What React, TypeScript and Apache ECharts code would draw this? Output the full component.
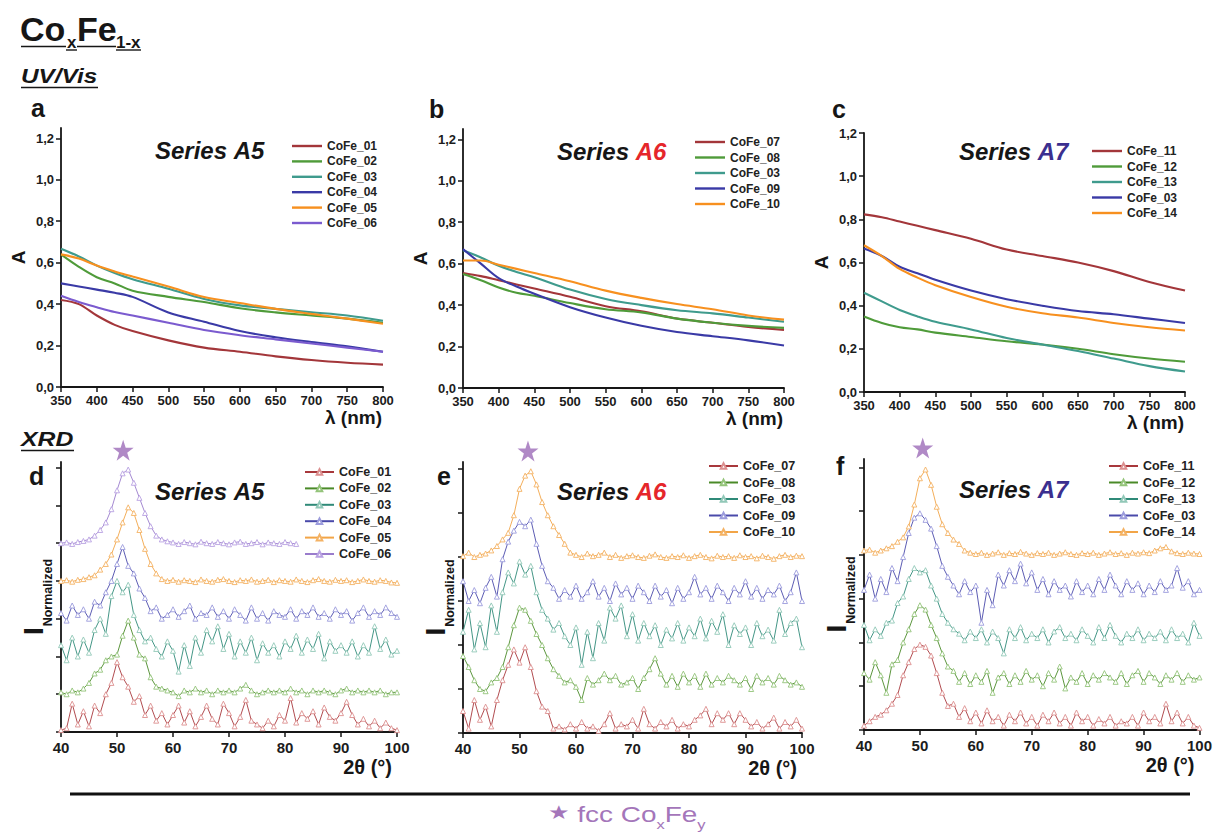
import React, { useEffect, useRef } from "react";
import * as echarts from "echarts";

const FONT = '"Liberation Sans", Arial, Helvetica, sans-serif';
const INK = "#161616";

// ---------------- UV/Vis data (absorbance A vs wavelength, nm) ----------------
const WAVELENGTH_NM = [350, 375, 400, 425, 450, 500, 550, 600, 650, 700, 750, 800];
const UV_Y_TICKS = [0, 0.2, 0.4, 0.6, 0.8, 1.0, 1.2];

// Series A5 (panel a)
const A5_CoFe_01 = [0.42, 0.40, 0.345, 0.30, 0.27, 0.225, 0.19, 0.17, 0.148, 0.13, 0.117, 0.108];
const A5_CoFe_02 = [0.64, 0.58, 0.53, 0.50, 0.465, 0.435, 0.41, 0.38, 0.36, 0.345, 0.33, 0.31];
const A5_CoFe_03 = [0.667, 0.63, 0.586, 0.55, 0.52, 0.474, 0.425, 0.394, 0.377, 0.361, 0.345, 0.32];
const A5_CoFe_04 = [0.50, 0.485, 0.47, 0.455, 0.435, 0.36, 0.315, 0.27, 0.24, 0.217, 0.196, 0.17];
const A5_CoFe_05 = [0.64, 0.62, 0.586, 0.558, 0.533, 0.485, 0.434, 0.405, 0.377, 0.353, 0.33, 0.305];
const A5_CoFe_06 = [0.44, 0.41, 0.385, 0.362, 0.345, 0.31, 0.275, 0.25, 0.23, 0.21, 0.19, 0.17];

// Series A6 (panel b)
const A6_CoFe_07 = [0.555, 0.54, 0.52, 0.50, 0.48, 0.44, 0.395, 0.37, 0.335, 0.315, 0.295, 0.28];
const A6_CoFe_08 = [0.55, 0.52, 0.485, 0.46, 0.445, 0.41, 0.38, 0.365, 0.335, 0.315, 0.30, 0.29];
const A6_CoFe_03 = [0.665, 0.63, 0.59, 0.56, 0.535, 0.475, 0.43, 0.40, 0.375, 0.36, 0.34, 0.32];
const A6_CoFe_09 = [0.67, 0.60, 0.53, 0.49, 0.455, 0.39, 0.34, 0.30, 0.27, 0.25, 0.23, 0.205];
const A6_CoFe_10 = [0.615, 0.615, 0.595, 0.575, 0.555, 0.515, 0.47, 0.435, 0.405, 0.38, 0.35, 0.33];

// Series A7 (panel c)
const A7_CoFe_11 = [0.823, 0.81, 0.79, 0.77, 0.75, 0.71, 0.66, 0.63, 0.60, 0.56, 0.51, 0.47];
const A7_CoFe_12 = [0.35, 0.32, 0.30, 0.29, 0.275, 0.255, 0.235, 0.22, 0.20, 0.175, 0.155, 0.14];
const A7_CoFe_13 = [0.46, 0.42, 0.38, 0.35, 0.325, 0.29, 0.25, 0.22, 0.19, 0.155, 0.12, 0.095];
const A7_CoFe_03 = [0.665, 0.63, 0.58, 0.55, 0.52, 0.47, 0.43, 0.40, 0.375, 0.36, 0.34, 0.32];
const A7_CoFe_14 = [0.68, 0.63, 0.57, 0.53, 0.495, 0.44, 0.395, 0.365, 0.345, 0.32, 0.30, 0.285];

// ---------------- XRD data (normalized, stacked intensity vs 2θ) ----------------
const TWO_THETA = [
  40, 41, 42, 43, 44, 45, 46, 47, 48, 49, 50, 51, 52, 53, 54, 55, 56, 57, 58, 59,
  60, 61, 62, 63, 64, 65, 66, 67, 68, 69, 70, 71, 72, 73, 74, 75, 76, 77, 78, 79,
  80, 81, 82, 83, 84, 85, 86, 87, 88, 89, 90, 91, 92, 93, 94, 95, 96, 97, 98, 99, 100,
];
const XRD_Y_TICKS_D = [0, 1, 2, 3, 4, 5, 6, 7];
const XRD_Y_TICKS_EF = [0, 1, 2, 3, 4, 5, 6];

// Series A5 (panel d)
const D_CoFe_01 = [
  0.05, 0.1, 0.75, 0.2, 0.55, 0.15, 0.7, 0.5, 1.0, 1.3,
  1.85, 1.45, 1.2, 0.8, 0.95, 0.45, 0.7, 0.3, 0.5, 0.2,
  0.45, 0.7, 0.25, 0.55, 0.15, 0.4, 0.7, 0.35, 0.2, 0.75,
  0.5, 0.15, 0.4, 0.85, 0.3, 0.2, 0.1, 0.3, 0.15, 0.45,
  0.3, 0.9, 0.25, 0.5, 0.35, 0.55, 0.2, 0.65, 0.4, 0.3,
  0.5, 0.8, 0.45, 0.2, 0.35, 0.15, 0.3, 0.1, 0.25, 0.1, 0.05,
];
const D_CoFe_02 = [
  1.05, 1.0, 1.1, 1.05, 1.15, 1.3, 1.55, 1.65, 1.9, 2.0,
  2.05, 2.55, 2.95, 2.5, 2.05, 1.95, 1.45, 1.2, 1.15, 1.1,
  1.05, 0.95, 1.1, 1.05, 1.15, 1.05, 1.1, 1.0, 1.1, 1.05,
  1.1, 1.05, 1.15, 1.25, 1.1, 1.0, 1.05, 1.1, 1.05, 1.1,
  1.05, 1.15, 1.05, 1.1, 1.0, 1.1, 1.05, 1.1, 1.05, 1.0,
  1.1, 1.15, 1.05, 1.1, 1.05, 1.1, 1.05, 1.1, 1.0, 1.05, 1.05,
];
const D_CoFe_03 = [
  2.3, 1.9, 2.5, 2.0, 2.45, 2.1, 2.7, 3.0, 2.6, 3.6,
  4.0, 3.7, 3.9, 3.1, 2.7, 2.4, 2.5, 2.2, 2.0, 2.4,
  2.15, 1.6, 2.3, 1.75, 2.5, 2.1, 2.7, 2.4, 2.8, 2.2,
  2.6, 2.0, 2.4, 2.1, 2.5, 1.9, 2.35, 2.1, 2.3, 2.0,
  2.4, 2.2, 2.55, 2.1, 2.45, 2.2, 2.6, 1.95, 2.4, 2.15,
  2.3, 2.1, 2.4, 2.0, 2.3, 2.1, 2.8, 2.2, 2.45, 2.05, 2.15,
];
const D_CoFe_04 = [
  3.15, 2.95, 3.35, 3.1, 3.25, 3.0, 3.45, 3.35, 3.7, 4.0,
  4.45, 4.9, 4.4, 4.2, 3.8, 3.55, 3.2, 3.3, 3.0, 3.1,
  3.25, 3.05, 3.2, 3.35, 3.0, 3.15, 3.1, 3.3, 3.05, 3.2,
  3.0, 3.25, 3.1, 2.95, 3.3, 3.0, 3.15, 2.95, 3.2, 3.1,
  3.05, 3.25, 3.0, 3.2, 3.1, 3.3, 3.05, 3.15, 3.0, 3.25,
  3.1, 3.2, 2.95, 3.15, 3.3, 3.05, 3.2, 3.1, 3.3, 3.15, 3.05,
];
const D_CoFe_05 = [
  4.0, 4.02, 3.98, 4.03, 4.05, 4.1, 4.15, 4.3, 4.45, 4.7,
  5.1, 5.55, 5.95, 5.8, 5.35, 4.85, 4.45, 4.2, 4.05, 4.0,
  4.03, 3.98, 4.02, 4.0, 3.97, 4.04, 4.0, 3.98, 4.03, 4.05,
  4.0, 3.97, 4.02, 4.0, 4.04, 3.98, 4.0, 4.03, 3.97, 4.02,
  4.0, 3.98, 4.04, 4.0, 3.97, 4.02, 4.05, 4.0, 3.98, 4.03,
  4.0, 4.02, 3.97, 4.0, 4.04, 4.0, 3.98, 4.02, 4.0, 3.96, 3.95,
];
const D_CoFe_06 = [
  5.0, 5.02, 4.98, 5.03, 5.06, 5.1, 5.2, 5.35, 5.55, 5.9,
  6.4, 6.85, 6.95, 6.6, 6.2, 5.8, 5.45, 5.2, 5.1, 5.05,
  5.02, 4.98, 5.03, 5.0, 4.97, 5.04, 5.0, 4.98, 5.03, 5.0,
  4.97, 5.02, 5.04, 4.98, 5.0, 5.03, 4.97, 5.02, 5.0, 4.98,
  5.03, 5.0, 4.98,
];

// Series A6 (panel e)
const E_CoFe_07 = [
  0.5, 0.1, 0.75, 0.3, 0.6, 0.15, 0.75, 1.2, 1.55, 1.9,
  1.6, 1.95, 1.5, 0.95, 0.6, 0.5, 0.1, 0.15, 0.08, 0.2,
  0.1, 0.25, 0.1, 0.15, 0.05, 0.2, 0.45, 0.1, 0.2, 0.15,
  0.3, 0.1, 0.55, 0.2, 0.1, 0.25, 0.15, 0.3, 0.1, 0.2,
  0.15, 0.3, 0.4, 0.55, 0.2, 0.45, 0.3, 0.45, 0.2, 0.45,
  0.3, 0.15, 0.25, 0.1, 0.2, 0.35, 0.1, 0.25, 0.15, 0.3, 0.1,
];
const E_CoFe_08 = [
  1.75, 1.5, 1.2, 1.0, 0.95, 1.15, 1.25, 1.5, 1.95, 2.45,
  2.85, 2.8, 2.55, 2.25, 2.0, 1.7, 1.45, 1.3, 1.15, 1.2,
  1.05, 0.75, 1.25, 1.1, 1.2, 1.35, 1.2, 1.3, 1.1, 1.15,
  1.25, 1.0, 1.25, 1.45, 1.7, 1.35, 1.1, 1.3, 1.05, 1.35,
  1.15, 1.3, 1.05, 1.35, 1.1, 1.25, 1.15, 1.3, 1.2, 1.1,
  1.25, 1.0, 1.3, 1.15, 1.25, 1.1, 1.3, 1.2, 1.1, 1.15, 1.05,
];
const E_CoFe_03 = [
  2.3, 2.8, 1.9, 2.5, 1.95, 2.9, 2.3, 3.2, 3.65, 3.4,
  3.9, 3.6, 3.8, 3.2, 2.8, 2.6, 2.35, 2.5, 2.2, 2.0,
  2.4, 1.55, 2.3, 1.7, 2.5, 2.1, 2.85, 2.6, 2.9, 2.2,
  2.7, 2.1, 2.5, 2.2, 2.45, 2.0, 2.35, 2.15, 2.5, 2.1,
  2.4, 2.2, 2.6, 2.15, 2.55, 2.3, 2.7, 2.0, 2.45, 2.25,
  2.4, 2.0, 2.5, 2.2, 2.35, 2.1, 2.8, 2.25, 2.5, 2.6, 1.95,
];
const E_CoFe_09 = [
  3.45, 3.0, 3.25, 2.95, 3.3, 3.55, 3.1, 3.95, 4.35, 4.6,
  4.8, 4.7, 4.85, 4.3, 3.8, 3.45, 3.3, 3.05, 3.25, 3.1,
  3.35, 3.05, 3.2, 3.45, 3.1, 3.3, 3.0, 3.4, 3.15, 3.3,
  3.05, 3.35, 3.2, 3.0, 3.35, 3.1, 3.25, 2.95, 3.3, 3.05,
  3.2, 3.55, 3.15, 3.3, 3.05, 3.35, 3.2, 3.0, 3.3, 3.15,
  3.45, 3.1, 3.3, 3.05, 3.25, 3.15, 3.35, 3.0, 3.2, 3.65, 3.0,
];
const E_CoFe_10 = [
  4.02, 4.1, 4.0, 4.05, 4.08, 4.15, 4.25, 4.4, 4.55, 4.95,
  5.55, 5.85, 5.95, 5.65, 5.25, 4.95, 4.7, 4.5, 4.3, 4.1,
  4.05, 4.0, 4.08, 4.02, 4.05, 4.1, 4.0, 4.05, 3.98, 4.02,
  4.04, 4.0, 3.98, 4.03, 4.06, 4.0, 3.98, 4.02, 4.0, 4.04,
  3.98, 4.02, 4.05, 4.0, 3.97, 4.03, 4.0, 4.02, 3.98, 4.04,
  4.0, 4.02, 3.97, 4.03, 4.0, 3.96, 4.02, 4.05, 4.0, 4.03, 4.02,
];

// Series A7 (panel f)
const F_CoFe_11 = [
  0.1, 0.2, 0.3, 0.35, 0.45, 0.6, 0.8, 1.25, 1.55, 1.85,
  1.95, 1.9, 1.7, 1.3, 0.85, 0.55, 0.6, 0.3, 0.5, 0.2,
  0.4, 0.15, 0.45, 0.2, 0.3, 0.1, 0.35, 0.2, 0.4, 0.15,
  0.3, 0.1, 0.35, 0.2, 0.4, 0.15, 0.3, 0.1, 0.4, 0.2,
  0.3, 0.1, 0.25, 0.15, 0.3, 0.1, 0.2, 0.15, 0.3, 0.1,
  0.4, 0.2, 0.3, 0.15, 0.6, 0.2, 0.4, 0.15, 0.3, 0.1, 0.05,
];
const F_CoFe_12 = [
  1.3, 1.15, 1.55, 1.25, 0.85, 1.5, 1.6, 2.0, 2.3, 2.65,
  2.85, 2.75, 2.4, 2.1, 1.75, 1.45, 1.35, 1.1, 1.3, 1.05,
  1.25, 1.1, 1.35, 0.85, 1.2, 1.3, 1.05, 1.25, 1.1, 1.35,
  1.15, 1.25, 1.0, 1.3, 1.15, 1.45, 0.95, 1.2, 1.1, 1.3,
  1.05, 1.25, 1.15, 1.3, 1.2, 1.1, 1.3, 1.05, 1.25, 1.35,
  1.1, 1.3, 1.2, 1.05, 1.25, 1.15, 1.3, 1.1, 1.25, 1.15, 1.2,
];
const F_CoFe_13 = [
  2.4, 2.05, 2.3, 2.15, 2.45, 2.5, 2.9, 3.05, 3.45, 3.7,
  3.6, 3.65, 3.3, 3.0, 2.65, 2.45, 2.3, 2.2, 2.05, 2.25,
  2.1, 2.3, 2.0, 2.25, 2.1, 1.75, 2.3, 2.1, 2.35, 2.05,
  2.2, 2.1, 2.3, 2.0, 2.25, 2.35, 2.1, 2.2, 2.05, 2.3,
  2.15, 2.0, 2.35, 2.1, 2.4, 2.15, 2.0, 2.2, 2.1, 2.3,
  2.05, 2.2, 2.1, 2.25, 2.05, 2.3, 2.1, 2.2, 2.0, 2.45, 2.15,
];
const F_CoFe_03 = [
  3.2, 3.55, 3.0, 3.45, 3.15, 3.7, 3.4, 3.95, 4.5, 4.85,
  4.95, 4.8, 4.6, 4.2, 3.75, 3.5, 3.3, 3.1, 3.4, 3.15,
  3.3, 2.45, 3.2, 2.85, 3.55, 3.3, 3.65, 3.4, 3.8, 3.35,
  3.6, 3.2, 3.45, 3.1, 3.4, 3.2, 3.3, 3.05, 3.4, 3.15,
  3.3, 3.1, 3.45, 3.2, 3.55, 3.3, 3.1, 3.4, 3.2, 3.35,
  3.1, 3.3, 3.15, 3.4, 3.2, 3.3, 3.7, 3.25, 3.4, 3.1, 3.2,
];
const F_CoFe_14 = [
  4.1, 4.12, 4.05, 4.1, 4.15, 4.2, 4.3, 4.4, 4.65, 5.15,
  5.75, 5.95, 5.6, 5.1, 4.7, 4.5, 4.35, 4.25, 4.1, 4.05,
  4.02, 4.05, 4.0, 4.03, 4.06, 4.0, 4.04, 4.02, 4.07, 4.03,
  4.0, 4.04, 4.02, 4.05, 4.0, 4.03, 4.06, 4.02, 4.0, 4.04,
  4.02, 4.05, 4.0, 4.03, 4.06, 4.02, 4.04, 4.0, 4.05, 4.03,
  4.06, 4.04, 4.1, 4.15, 4.18, 4.08, 4.04, 4.02, 4.05, 4.03, 4.02,
];

// fcc CoxFe peak markers (2θ, stacked intensity) above each XRD panel
const FCC_PEAK_MARKS = [
  [51.1, 7.46],
  [51.5, 6.41],
  [50.5, 6.44],
];

// ---------------- styling / layout ----------------
const UV_COL = {
  red: "#a3363a",
  green: "#4f9b3a",
  teal: "#3f9b8d",
  blue: "#3a3aa6",
  orange: "#f7901f",
  purple: "#7b5bcf",
};
const XRD_COL: Record<string, [string, string]> = {
  red: ["#a8383c", "#dc9090"],
  green: ["#4a8a28", "#94c47a"],
  teal: ["#2f8a78", "#92c8b8"],
  blue: ["#4a4aaa", "#9c9cdc"],
  orange: ["#f2a547", "#f4b264"],
  purple: ["#9a7ccc", "#b9a2e2"],
};

const GRID_BOX = [
  { left: 61, top: 128, width: 322, height: 259 },
  { left: 463, top: 129, width: 321, height: 259 },
  { left: 864, top: 133, width: 321, height: 259 },
  { left: 61, top: 462, width: 336, height: 270 },
  { left: 463, top: 462, width: 339, height: 271 },
  { left: 864, top: 459, width: 337, height: 271 },
];
const Y_MAX = [1.25, 1.25, 1.2, 7.15, 6.16, 6.19];
const LEGEND_BOX = [
  { left: 292, top: 139, itemGap: 1.4 },
  { left: 695, top: 135, itemGap: 1.5 },
  { left: 1092, top: 144, itemGap: 1.5 },
  { left: 304, top: 465, itemGap: 2.4 },
  { left: 708, top: 459, itemGap: 2.5 },
  { left: 1108, top: 459, itemGap: 2.5 },
];

const UV_PANELS = [
  {
    key: "a",
    names: ["CoFe_01", "CoFe_02", "CoFe_03", "CoFe_04", "CoFe_05", "CoFe_06"],
    values: [A5_CoFe_01, A5_CoFe_02, A5_CoFe_03, A5_CoFe_04, A5_CoFe_05, A5_CoFe_06],
    colors: [UV_COL.red, UV_COL.green, UV_COL.teal, UV_COL.blue, UV_COL.orange, UV_COL.purple],
  },
  {
    key: "b",
    names: ["CoFe_07", "CoFe_08", "CoFe_03", "CoFe_09", "CoFe_10"],
    values: [A6_CoFe_07, A6_CoFe_08, A6_CoFe_03, A6_CoFe_09, A6_CoFe_10],
    colors: [UV_COL.red, UV_COL.green, UV_COL.teal, UV_COL.blue, UV_COL.orange],
  },
  {
    key: "c",
    names: ["CoFe_11", "CoFe_12", "CoFe_13", "CoFe_03", "CoFe_14"],
    values: [A7_CoFe_11, A7_CoFe_12, A7_CoFe_13, A7_CoFe_03, A7_CoFe_14],
    colors: [UV_COL.red, UV_COL.green, UV_COL.teal, UV_COL.blue, UV_COL.orange],
  },
];

const XRD_PANELS = [
  {
    key: "d",
    names: ["CoFe_01", "CoFe_02", "CoFe_03", "CoFe_04", "CoFe_05", "CoFe_06"],
    values: [D_CoFe_01, D_CoFe_02, D_CoFe_03, D_CoFe_04, D_CoFe_05, D_CoFe_06],
    colors: ["red", "green", "teal", "blue", "orange", "purple"],
    ticks: XRD_Y_TICKS_D,
  },
  {
    key: "e",
    names: ["CoFe_07", "CoFe_08", "CoFe_03", "CoFe_09", "CoFe_10"],
    values: [E_CoFe_07, E_CoFe_08, E_CoFe_03, E_CoFe_09, E_CoFe_10],
    colors: ["red", "green", "teal", "blue", "orange"],
    ticks: XRD_Y_TICKS_EF,
  },
  {
    key: "f",
    names: ["CoFe_11", "CoFe_12", "CoFe_13", "CoFe_03", "CoFe_14"],
    values: [F_CoFe_11, F_CoFe_12, F_CoFe_13, F_CoFe_03, F_CoFe_14],
    colors: ["red", "green", "teal", "blue", "orange"],
    ticks: XRD_Y_TICKS_EF,
  },
];

const STAR_PATH =
  "path://M50,0 L61.8,35.1 L98.8,35.1 L68.9,56.7 L80.3,91.9 L50,70.2 L19.7,91.9 L31.1,56.7 L1.2,35.1 L38.2,35.1 Z";

// text helper: x = left edge, baseline = alphabetic baseline
function label(
  x: number,
  baseline: number,
  text: string,
  size: number,
  weight = "bold",
  style = "normal",
  scaleX = 1,
  fill = INK
) {
  return {
    type: "text",
    x,
    y: baseline - 0.35 * size,
    scaleX,
    silent: true,
    style: {
      text,
      font: `${style} ${weight} ${size}px ${FONT}`,
      fill,
      align: "left",
      verticalAlign: "middle",
      textAlign: "left",
      textVerticalAlign: "middle",
    },
  };
}
function hline(x1: number, x2: number, y: number, w = 1.4) {
  return { type: "line", silent: true, shape: { x1, y1: y, x2, y2: y }, style: { stroke: INK, lineWidth: w } };
}
function seriesTitle(x: number, baseline: number, suffix: string, suffixColor: string) {
  const base = { fontSize: 24, fontWeight: "bold", fontStyle: "italic", fontFamily: FONT };
  return {
    type: "text",
    x,
    y: baseline - 0.35 * 24,
    silent: true,
    style: {
      text: `{b|Series }{r|${suffix}}`,
      align: "left",
      verticalAlign: "middle",
      textAlign: "left",
      textVerticalAlign: "middle",
      rich: { b: { ...base, fill: INK }, r: { ...base, fill: suffixColor } },
    },
  };
}

const commaFmt = (v: number) => v.toFixed(1).replace(".", ",");

function buildOption() {
  const series: any[] = [];
  const legend: any[] = [];
  const xAxis: any[] = [];
  const yAxis: any[] = [];
  const grid = GRID_BOX.map((g) => ({ ...g, containLabel: false }));

  const axisLine = { show: true, onZero: false, lineStyle: { color: INK, width: 1.8 } };
  const tickStyle = { color: INK, width: 1.5 };

  // UV/Vis panels
  UV_PANELS.forEach((p, i) => {
    const ids: string[] = [];
    p.names.forEach((n, j) => {
      const id = `${n}#${p.key}`;
      ids.push(id);
      series.push({
        type: "line",
        name: id,
        xAxisIndex: i,
        yAxisIndex: i,
        data: WAVELENGTH_NM.map((x, k) => [x, p.values[j][k]]),
        symbol: "none",
        smooth: 0.35,
        lineStyle: { width: 2.1, color: p.colors[j] },
        itemStyle: { color: p.colors[j] },
        silent: true,
      });
    });
    legend.push({
      ...LEGEND_BOX[i],
      orient: "vertical",
      padding: 0,
      icon: "rect",
      itemWidth: 30,
      itemHeight: 2.4,
      selectedMode: false,
      data: ids,
      formatter: (name: string) => name.split("#")[0],
      textStyle: { fontSize: 12, fontWeight: "bold", color: "#222", fontFamily: FONT, lineHeight: 14 },
    });
    xAxis.push({
      gridIndex: i,
      type: "value",
      min: 350,
      max: 800,
      interval: 50,
      axisLine,
      axisTick: { show: true, length: 5, lineStyle: tickStyle },
      axisLabel: { fontSize: 13, fontWeight: "bold", color: "#1c1c1c", fontFamily: FONT, margin: 7 },
      splitLine: { show: false },
      name: "λ (nm)",
      nameLocation: "end",
      nameGap: -1,
      nameMoveOverlap: false,
      nameTextStyle: {
        fontSize: 19,
        fontWeight: "bold",
        color: INK,
        fontFamily: FONT,
        align: "right",
        verticalAlign: "top",
        padding: [21, 0, 0, 0],
      },
    });
    yAxis.push({
      gridIndex: i,
      type: "value",
      min: 0,
      max: Y_MAX[i],
      interval: 0.2,
      axisLine,
      axisTick: { show: true, length: 5, lineStyle: tickStyle, customValues: UV_Y_TICKS },
      axisLabel: {
        customValues: UV_Y_TICKS,
        formatter: commaFmt,
        fontSize: 13,
        fontWeight: "bold",
        color: "#1c1c1c",
        fontFamily: FONT,
        margin: 7,
      },
      splitLine: { show: false },
      name: "A",
      nameLocation: "middle",
      nameRotate: 90,
      nameGap: 33,
      nameMoveOverlap: false,
      nameTextStyle: { fontSize: 19, fontWeight: "bold", color: INK, fontFamily: FONT },
    });
  });

  // XRD panels
  XRD_PANELS.forEach((p, k) => {
    const i = k + 3;
    const ids: string[] = [];
    p.names.forEach((n, j) => {
      const id = `${n}#${p.key}`;
      ids.push(id);
      const [lineC, markC] = XRD_COL[p.colors[j]];
      series.push({
        type: "line",
        name: id,
        xAxisIndex: i,
        yAxisIndex: i,
        data: p.values[j].map((v, m) => [TWO_THETA[m], v]),
        symbol: "triangle",
        symbolSize: 5,
        showSymbol: true,
        showAllSymbol: true,
        lineStyle: { width: 0.9, color: lineC },
        itemStyle: { color: "#ffffff", borderColor: markC, borderWidth: 0.9 },
        silent: true,
      });
    });
    series.push({
      type: "scatter",
      xAxisIndex: i,
      yAxisIndex: i,
      data: [FCC_PEAK_MARKS[k]],
      symbol: STAR_PATH,
      symbolSize: 21,
      clip: false,
      silent: true,
      itemStyle: { color: "#9c6cb8" },
      z: 5,
    });
    legend.push({
      ...LEGEND_BOX[i],
      orient: "vertical",
      padding: 0,
      itemWidth: 29,
      itemHeight: 7,
      selectedMode: false,
      data: ids,
      formatter: (name: string) => name.split("#")[0],
      textStyle: { fontSize: 12.5, fontWeight: "bold", color: "#222", fontFamily: FONT, lineHeight: 14 },
    });
    xAxis.push({
      gridIndex: i,
      type: "value",
      min: 40,
      max: 100,
      interval: 10,
      axisLine,
      axisTick: { show: true, length: 5, lineStyle: tickStyle },
      axisLabel: { fontSize: 15, fontWeight: "bold", color: "#1c1c1c", fontFamily: FONT, margin: 8 },
      splitLine: { show: false },
      name: "2θ (°)",
      nameLocation: "end",
      nameGap: -5,
      nameMoveOverlap: false,
      nameTextStyle: {
        fontSize: 20,
        fontWeight: "bold",
        color: INK,
        fontFamily: FONT,
        align: "right",
        verticalAlign: "top",
        padding: [25, 0, 0, 0],
      },
    });
    yAxis.push({
      gridIndex: i,
      type: "value",
      min: 0,
      max: Y_MAX[i],
      interval: 1,
      axisLine,
      axisTick: { show: true, length: 5, lineStyle: tickStyle, customValues: p.ticks },
      axisLabel: { show: false },
      splitLine: { show: false },
      name: "{i|I}{n|Normalized}",
      nameLocation: "middle",
      nameRotate: 90,
      nameGap: 12,
      nameMoveOverlap: false,
      nameTextStyle: {
        rich: {
          i: { fontSize: 28, fontWeight: "bold", color: INK, fontFamily: FONT, lineHeight: 30, verticalAlign: "top" },
          n: {
            fontSize: 12.5,
            fontWeight: "bold",
            color: INK,
            fontFamily: FONT,
            lineHeight: 13,
            verticalAlign: "top",
            padding: [22, 0, 0, 1],
          },
        },
      },
    });
  });

  const purple = "#a476ba";
  const graphic = [
    // Title CoxFe1-x
    label(20, 41, "Co", 34),
    label(67, 48, "x", 17),
    label(77, 41, "Fe", 34),
    label(116, 48, "1-x", 17),
    hline(21, 66, 46.5, 1.6),
    hline(66, 77, 50, 1.4),
    hline(77, 116, 46.5, 1.6),
    hline(116, 141, 50, 1.4),
    // Section headings
    label(21, 83, "UV/Vis", 21, "bold", "italic", 1.16),
    hline(21, 98, 87.5, 1.4),
    label(21, 446, "XRD", 20, "bold", "italic", 1.24),
    hline(21, 74, 450.5, 1.4),
    // Panel letters
    label(31, 117, "a", 25),
    label(429, 118, "b", 25),
    label(832, 118, "c", 25),
    label(29, 485, "d", 25),
    label(437, 485, "e", 25),
    label(836, 475, "f", 25),
    // Series titles
    seriesTitle(155, 159, "A5", INK),
    seriesTitle(557, 160, "A6", "#e5262b"),
    seriesTitle(959, 160, "A7", "#3b2f8f"),
    seriesTitle(155, 500, "A5", INK),
    seriesTitle(557, 500, "A6", "#e5262b"),
    seriesTitle(959, 498, "A7", "#3b2f8f"),
    // bottom rule + legend of the star
    { type: "line", silent: true, shape: { x1: 70, y1: 794, x2: 1190, y2: 794 }, style: { stroke: "#111", lineWidth: 3 } },
    {
      type: "text",
      x: 548,
      y: 803,
      scaleX: 1.27,
      silent: true,
      style: {
        text: "{st|★ }{m|fcc Co}{s|x}{m|Fe}{s|y}",
        align: "left",
        verticalAlign: "top",
        textAlign: "left",
        textVerticalAlign: "top",
        rich: {
          st: { fontSize: 19, fontFamily: '"DejaVu Sans", sans-serif', fill: purple, lineHeight: 26, verticalAlign: "top" },
          m: { fontSize: 22, fontFamily: FONT, fill: purple, lineHeight: 26, verticalAlign: "top" },
          s: { fontSize: 13, fontFamily: FONT, fill: purple, lineHeight: 13, verticalAlign: "top", padding: [15, 0, 0, 0] },
        },
      },
    },
  ];

  return {
    animation: false,
    backgroundColor: "#ffffff",
    textStyle: { fontFamily: FONT },
    grid,
    xAxis,
    yAxis,
    legend,
    series,
    graphic,
  };
}

export default function App() {
  const ref = useRef<HTMLDivElement | null>(null);
  useEffect(() => {
    if (!ref.current) return;
    const chart = echarts.init(ref.current, undefined, { renderer: "svg" });
    chart.setOption(buildOption() as any);
    return () => chart.dispose();
  }, []);
  return (
    <div
      ref={ref}
      style={{ position: "fixed", left: 0, top: 0, width: 1215, height: 834, background: "#fff" }}
    />
  );
}
